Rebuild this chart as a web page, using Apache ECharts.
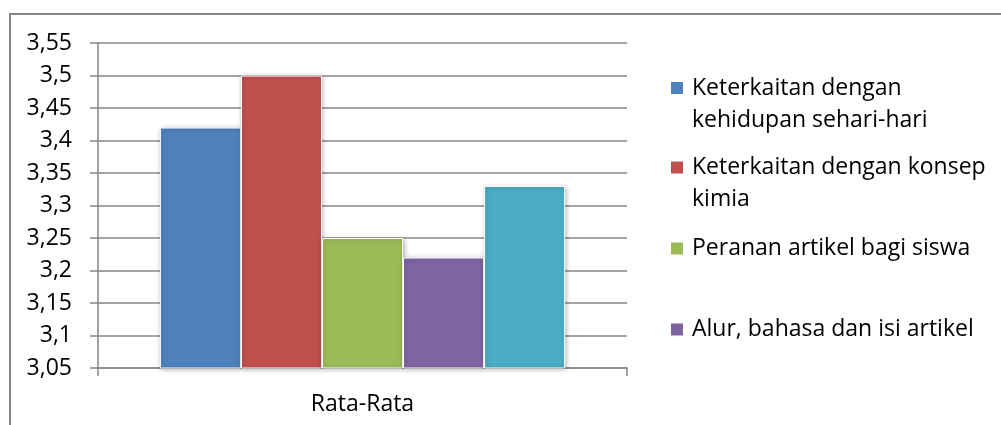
<!DOCTYPE html>
<html>
<head>
<meta charset="utf-8">
<script src="https://cdn.jsdelivr.net/npm/echarts@6/dist/echarts.min.js"></script>
<style>
  html, body { margin: 0; padding: 0; background: #ffffff; }
  #chart { width: 1001px; height: 425px; }
</style>
</head>
<body>
<div id="chart"></div>
<script>
// Category on the x axis
const categories = ['Rata-Rata'];

// One bar per aspect, all in the single category
const seriesNames = [
  'Keterkaitan dengan kehidupan sehari-hari',
  'Keterkaitan dengan konsep kimia',
  'Peranan artikel bagi siswa',
  'Alur, bahasa dan isi artikel',
  'Aspek lainnya'
];
const seriesValues = [3.42, 3.50, 3.25, 3.22, 3.33];
const seriesColors = ['#4F81BD', '#C0504D', '#9BBB59', '#8064A2', '#4BACC6'];

// Legend text, already broken into lines (only the first four aspects are listed)
const legendLines = [
  ['Keterkaitan dengan', 'kehidupan sehari-hari'],
  ['Keterkaitan dengan konsep', 'kimia'],
  ['Peranan artikel bagi siswa'],
  ['Alur, bahasa dan isi artikel']
];

// Value axis range and step
const yMin = 3.05;
const yMax = 3.55;
const yStep = 0.05;

const FONT = '"Open Sans", "Noto Sans", sans-serif';
const FONT_SIZE = 23;
const LINE_H = 32;
const legendCenters = [88, 167.5, 248.5, 329.5];

const chart = echarts.init(document.getElementById('chart'), null, { renderer: 'canvas' });

// Each entry gets its own legend so the markers sit level with the first text line
const legends = legendLines.map((lines, i) => {
  const multi = lines.length > 1;
  const boxH = multi ? LINE_H * 3 : LINE_H;
  return {
    orient: 'vertical',
    left: 671,
    top: legendCenters[i] - boxH / 2,
    padding: 0,
    itemWidth: 12,
    itemHeight: 12,
    icon: 'rect',
    selectedMode: false,
    data: [seriesNames[i]],
    itemStyle: { borderWidth: 0, shadowBlur: 0, shadowColor: 'transparent' },
    formatter: () => (multi ? '\n' : '') + lines.join('\n'),
    textStyle: {
      fontFamily: FONT,
      fontSize: FONT_SIZE,
      color: '#000000',
      lineHeight: LINE_H,
      padding: [0, 0, 0, 4]
    }
  };
});

const option = {
  backgroundColor: '#ffffff',
  animation: false,
  textStyle: { fontFamily: FONT },
  graphic: [{
    type: 'rect',
    silent: true,
    shape: { x: 10, y: 14, width: 1200, height: 600 },
    style: { fill: 'none', stroke: '#868686', lineWidth: 2 }
  }],
  legend: legends,
  grid: { left: 98, right: 374, top: 43, bottom: 57, containLabel: false },
  xAxis: {
    type: 'category',
    data: categories,
    boundaryGap: true,
    axisLine: { show: true, lineStyle: { color: '#868686', width: 1.5 } },
    axisTick: { show: true, length: 8, lineStyle: { color: '#868686', width: 1.5 } },
    axisLabel: { margin: 25, fontFamily: FONT, fontSize: FONT_SIZE, color: '#000000' },
    splitLine: { show: false }
  },
  yAxis: {
    type: 'value',
    min: yMin,
    max: yMax,
    interval: yStep,
    axisLine: { show: true, lineStyle: { color: '#868686', width: 1.5 } },
    axisTick: { show: true, length: 8, lineStyle: { color: '#868686', width: 1.5 } },
    axisLabel: {
      margin: 26,
      fontFamily: FONT,
      fontSize: FONT_SIZE,
      color: '#000000',
      formatter: v => String(+v.toFixed(2)).replace('.', ',')
    },
    splitLine: { show: true, lineStyle: { color: '#868686', width: 1.5 } }
  },
  series: seriesNames.map((name, i) => ({
    type: 'bar',
    name: name,
    data: [seriesValues[i]],
    barGap: '0%',
    barCategoryGap: '23.4%',
    itemStyle: {
      color: seriesColors[i],
      borderColor: '#ffffff',
      borderWidth: 1,
      shadowBlur: 5,
      shadowOffsetX: 1,
      shadowOffsetY: 1,
      shadowColor: 'rgba(0,0,0,0.3)'
    }
  }))
};

chart.setOption(option);
</script>
</body>
</html>
